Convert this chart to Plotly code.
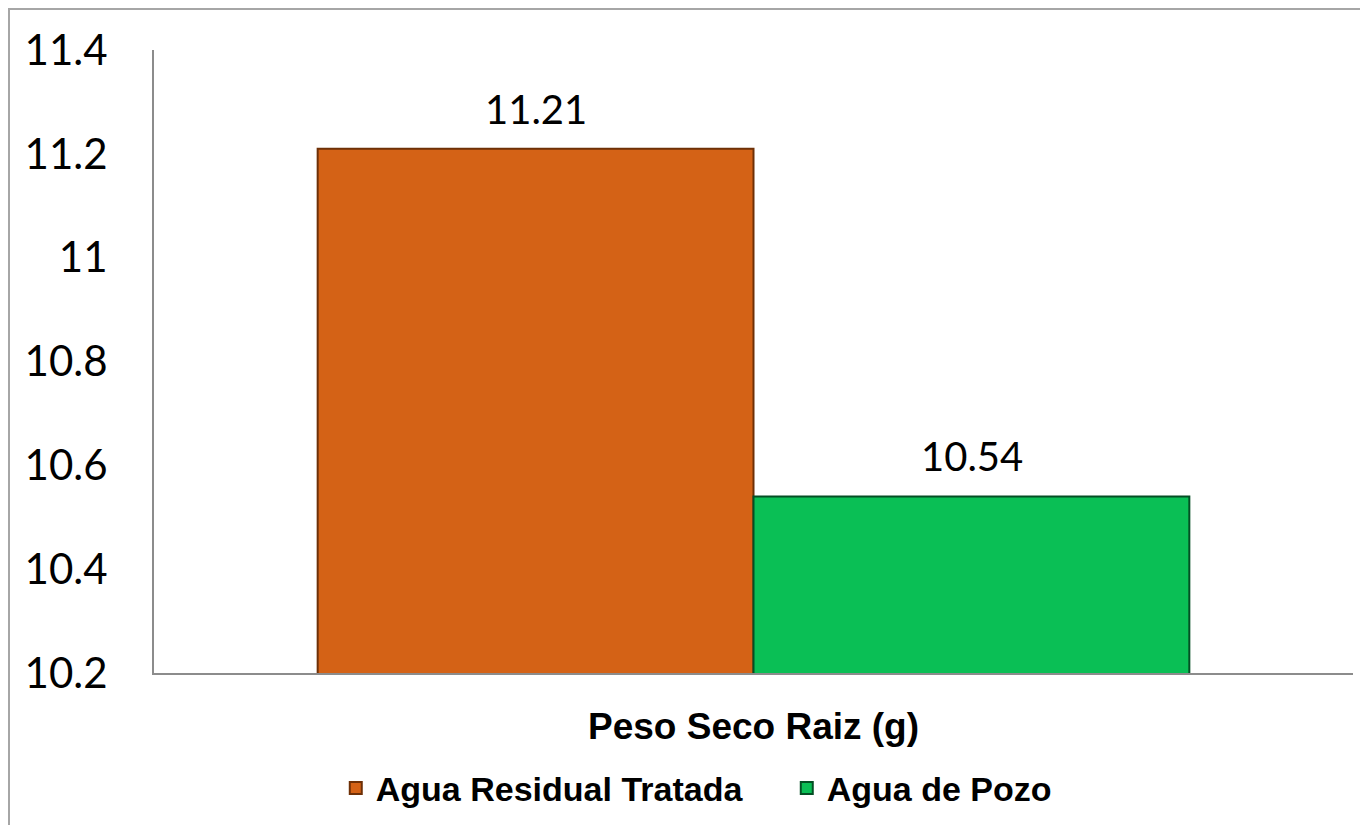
import plotly.graph_objects as go

# datos
categoria = ["Peso Seco Raiz (g)"]
series = ["Agua Residual Tratada", "Agua de Pozo"]
valores = [11.21, 10.54]
colores = ["#D46216", "#0ABF55"]
bordes = ["#6E3007", "#044F24"]
y_ticks = [10.2, 10.4, 10.6, 10.8, 11, 11.2, 11.4]

fig = go.Figure()

for nombre, valor, color, borde in zip(series, valores, colores, bordes):
    fig.add_trace(go.Bar(
        x=categoria,
        y=[valor],
        name=nombre,
        marker=dict(color=color, line=dict(color=borde, width=2)),
    ))

# etiquetas de valor sobre las barras
for i, (nombre, valor) in enumerate(zip(series, valores)):
    fig.add_annotation(
        x=categoria[0], y=valor, text=f"{valor:.2f}",
        xshift=(-1 if i == 0 else 1) * 218,
        yshift=40, showarrow=False,
        font=dict(family="Lato", size=40, color="#000000"),
    )

fig.update_layout(
    width=1368, height=825,
    margin=dict(l=146, r=23, t=42, b=160, autoexpand=False),
    paper_bgcolor="white", plot_bgcolor="white",
    barmode="group", bargap=0.273, bargroupgap=0,
    showlegend=True,
    legend=dict(
        orientation="h", x=0.2396, xanchor="left", xref="container",
        y=0.054, yanchor="middle", yref="container",
        font=dict(family="Liberation Sans", size=34, color="#000000", weight="bold"),
        itemwidth=30, entrywidth=406, tracegroupgap=0,
    ),
    font=dict(family="Liberation Sans"),
)

fig.update_xaxes(
    automargin=False,
    showline=True, linecolor="#8C8C8C", linewidth=2,
    showgrid=False, ticks="outside", ticklen=20, tickcolor="white",
    tickfont=dict(family="Liberation Sans", size=37, color="#000000", weight="bold"),
)
fig.update_yaxes(
    automargin=False,
    range=[10.2, 11.4], tickvals=y_ticks,
    ticktext=[f"{v:g}" for v in y_ticks],
    showline=True, linecolor="#8C8C8C", linewidth=2,
    showgrid=False, zeroline=False, ticks="", ticklabelstandoff=36,
    tickfont=dict(family="Lato", size=42, color="#000000"),
)

# marco exterior del gráfico
fig.add_shape(
    type="rect", xref="paper", yref="paper",
    x0=-145 / 1199, x1=1.05, y0=-0.4, y1=1 + 41 / 623,
    line=dict(color="#A6A6A6", width=2), fillcolor="rgba(0,0,0,0)",
    layer="below",
)

fig.write_html("out.html")
